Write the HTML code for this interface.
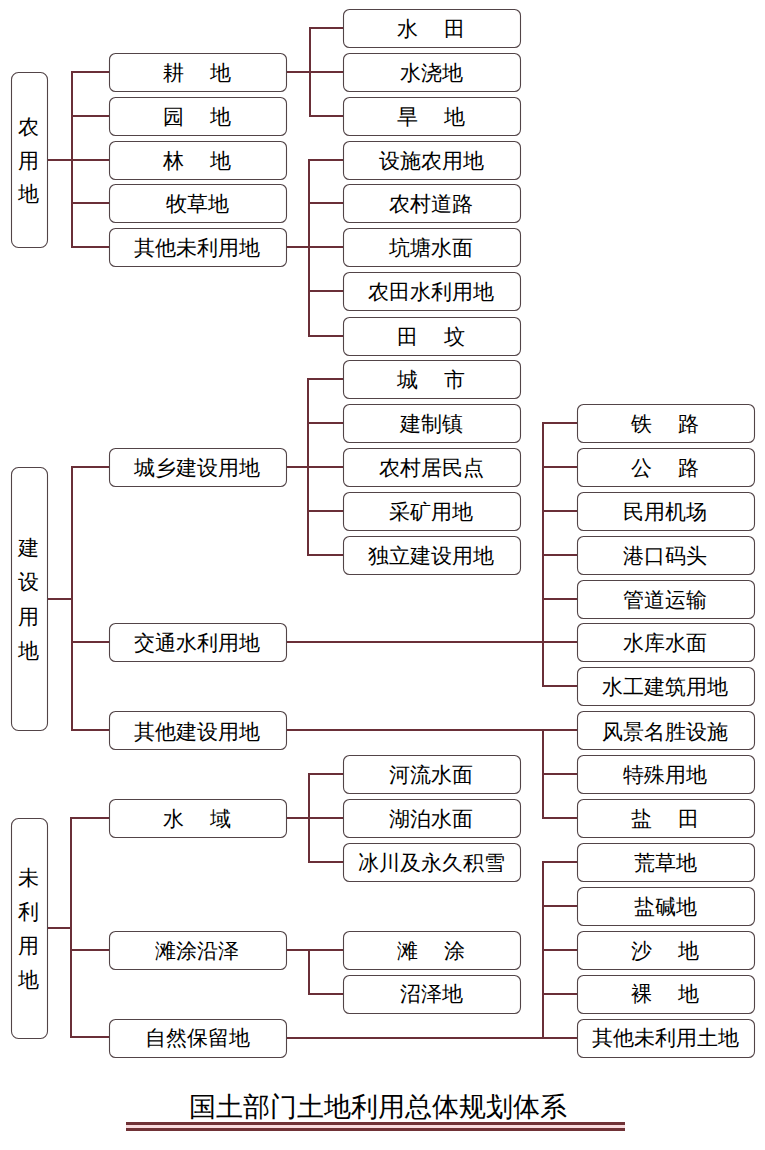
<!DOCTYPE html>
<html><head><meta charset="utf-8"><style>
html,body{margin:0;padding:0;background:#fff;width:765px;height:1150px;overflow:hidden}
svg{display:block}
.t{font-family:"Liberation Sans",sans-serif;font-size:21px;fill:#000;text-anchor:middle;dominant-baseline:central}
.title{font-family:"Liberation Sans",sans-serif;font-size:27px;fill:#000;text-anchor:middle;dominant-baseline:central}
</style></head><body>
<svg width="765" height="1150" viewBox="0 0 765 1150">
<rect x="47" y="159" width="26" height="2" fill="#6a2f38"/><rect x="71" y="71" width="2" height="177" fill="#6a2f38"/><rect x="71" y="71" width="39" height="2" fill="#6a2f38"/><rect x="71" y="115" width="39" height="2" fill="#6a2f38"/><rect x="71" y="159" width="39" height="2" fill="#6a2f38"/><rect x="71" y="202" width="39" height="2" fill="#6a2f38"/><rect x="71" y="246" width="39" height="2" fill="#6a2f38"/><rect x="47" y="598" width="26" height="2" fill="#6a2f38"/><rect x="71" y="466" width="2" height="265" fill="#6a2f38"/><rect x="71" y="466" width="39" height="2" fill="#6a2f38"/><rect x="71" y="641" width="39" height="2" fill="#6a2f38"/><rect x="71" y="729" width="39" height="2" fill="#6a2f38"/><rect x="47" y="927" width="25" height="2" fill="#6a2f38"/><rect x="70" y="817" width="2" height="221" fill="#6a2f38"/><rect x="70" y="817" width="40" height="2" fill="#6a2f38"/><rect x="70" y="949" width="40" height="2" fill="#6a2f38"/><rect x="70" y="1036" width="40" height="2" fill="#6a2f38"/><rect x="286" y="71" width="25" height="2" fill="#6a2f38"/><rect x="309" y="27" width="2" height="90" fill="#6a2f38"/><rect x="309" y="27" width="35" height="2" fill="#6a2f38"/><rect x="309" y="71" width="35" height="2" fill="#6a2f38"/><rect x="309" y="115" width="35" height="2" fill="#6a2f38"/><rect x="286" y="246" width="24" height="2" fill="#6a2f38"/><rect x="308" y="159" width="2" height="178" fill="#6a2f38"/><rect x="308" y="159" width="36" height="2" fill="#6a2f38"/><rect x="308" y="202" width="36" height="2" fill="#6a2f38"/><rect x="308" y="246" width="36" height="2" fill="#6a2f38"/><rect x="308" y="290" width="36" height="2" fill="#6a2f38"/><rect x="308" y="335" width="36" height="2" fill="#6a2f38"/><rect x="286" y="466" width="23" height="2" fill="#6a2f38"/><rect x="307" y="378" width="2" height="178" fill="#6a2f38"/><rect x="307" y="378" width="37" height="2" fill="#6a2f38"/><rect x="307" y="422" width="37" height="2" fill="#6a2f38"/><rect x="307" y="466" width="37" height="2" fill="#6a2f38"/><rect x="307" y="510" width="37" height="2" fill="#6a2f38"/><rect x="307" y="554" width="37" height="2" fill="#6a2f38"/><rect x="286" y="817" width="24" height="2" fill="#6a2f38"/><rect x="308" y="773" width="2" height="90" fill="#6a2f38"/><rect x="308" y="773" width="36" height="2" fill="#6a2f38"/><rect x="308" y="817" width="36" height="2" fill="#6a2f38"/><rect x="308" y="861" width="36" height="2" fill="#6a2f38"/><rect x="286" y="949" width="24" height="2" fill="#6a2f38"/><rect x="308" y="949" width="2" height="46" fill="#6a2f38"/><rect x="308" y="949" width="36" height="2" fill="#6a2f38"/><rect x="308" y="993" width="36" height="2" fill="#6a2f38"/><rect x="286" y="641" width="292" height="2" fill="#6a2f38"/><rect x="542" y="422" width="2" height="265" fill="#6a2f38"/><rect x="542" y="422" width="36" height="2" fill="#6a2f38"/><rect x="542" y="466" width="36" height="2" fill="#6a2f38"/><rect x="542" y="510" width="36" height="2" fill="#6a2f38"/><rect x="542" y="554" width="36" height="2" fill="#6a2f38"/><rect x="542" y="598" width="36" height="2" fill="#6a2f38"/><rect x="542" y="641" width="36" height="2" fill="#6a2f38"/><rect x="542" y="685" width="36" height="2" fill="#6a2f38"/><rect x="286" y="729" width="292" height="2" fill="#6a2f38"/><rect x="542" y="729" width="2" height="90" fill="#6a2f38"/><rect x="542" y="729" width="36" height="2" fill="#6a2f38"/><rect x="542" y="773" width="36" height="2" fill="#6a2f38"/><rect x="542" y="817" width="36" height="2" fill="#6a2f38"/><rect x="286" y="1037" width="292" height="2" fill="#6a2f38"/><rect x="542" y="861" width="2" height="178" fill="#6a2f38"/><rect x="542" y="861" width="36" height="2" fill="#6a2f38"/><rect x="542" y="905" width="36" height="2" fill="#6a2f38"/><rect x="542" y="949" width="36" height="2" fill="#6a2f38"/><rect x="542" y="993" width="36" height="2" fill="#6a2f38"/><rect x="542" y="1037" width="36" height="2" fill="#6a2f38"/><rect x="109.5" y="53.5" width="177.0" height="38.0" rx="6" fill="#fff" stroke="#524447" stroke-width="1.1"/><rect x="109.5" y="97.5" width="177.0" height="38.0" rx="6" fill="#fff" stroke="#524447" stroke-width="1.1"/><rect x="109.5" y="141.5" width="177.0" height="38.0" rx="6" fill="#fff" stroke="#524447" stroke-width="1.1"/><rect x="109.5" y="184.5" width="177.0" height="38.0" rx="6" fill="#fff" stroke="#524447" stroke-width="1.1"/><rect x="109.5" y="228.5" width="177.0" height="38.0" rx="6" fill="#fff" stroke="#524447" stroke-width="1.1"/><rect x="109.5" y="448.5" width="177.0" height="38.0" rx="6" fill="#fff" stroke="#524447" stroke-width="1.1"/><rect x="109.5" y="623.5" width="177.0" height="38.0" rx="6" fill="#fff" stroke="#524447" stroke-width="1.1"/><rect x="109.5" y="711.5" width="177.0" height="38.0" rx="6" fill="#fff" stroke="#524447" stroke-width="1.1"/><rect x="109.5" y="799.5" width="177.0" height="38.0" rx="6" fill="#fff" stroke="#524447" stroke-width="1.1"/><rect x="109.5" y="931.5" width="177.0" height="38.0" rx="6" fill="#fff" stroke="#524447" stroke-width="1.1"/><rect x="109.5" y="1019.5" width="177.0" height="38.0" rx="6" fill="#fff" stroke="#524447" stroke-width="1.1"/><rect x="343.5" y="9.5" width="177.0" height="38.0" rx="6" fill="#fff" stroke="#524447" stroke-width="1.1"/><rect x="343.5" y="53.5" width="177.0" height="38.0" rx="6" fill="#fff" stroke="#524447" stroke-width="1.1"/><rect x="343.5" y="97.5" width="177.0" height="38.0" rx="6" fill="#fff" stroke="#524447" stroke-width="1.1"/><rect x="343.5" y="141.5" width="177.0" height="38.0" rx="6" fill="#fff" stroke="#524447" stroke-width="1.1"/><rect x="343.5" y="184.5" width="177.0" height="38.0" rx="6" fill="#fff" stroke="#524447" stroke-width="1.1"/><rect x="343.5" y="228.5" width="177.0" height="38.0" rx="6" fill="#fff" stroke="#524447" stroke-width="1.1"/><rect x="343.5" y="272.5" width="177.0" height="38.0" rx="6" fill="#fff" stroke="#524447" stroke-width="1.1"/><rect x="343.5" y="317.5" width="177.0" height="38.0" rx="6" fill="#fff" stroke="#524447" stroke-width="1.1"/><rect x="343.5" y="360.5" width="177.0" height="38.0" rx="6" fill="#fff" stroke="#524447" stroke-width="1.1"/><rect x="343.5" y="404.5" width="177.0" height="38.0" rx="6" fill="#fff" stroke="#524447" stroke-width="1.1"/><rect x="343.5" y="448.5" width="177.0" height="38.0" rx="6" fill="#fff" stroke="#524447" stroke-width="1.1"/><rect x="343.5" y="492.5" width="177.0" height="38.0" rx="6" fill="#fff" stroke="#524447" stroke-width="1.1"/><rect x="343.5" y="536.5" width="177.0" height="38.0" rx="6" fill="#fff" stroke="#524447" stroke-width="1.1"/><rect x="343.5" y="755.5" width="177.0" height="38.0" rx="6" fill="#fff" stroke="#524447" stroke-width="1.1"/><rect x="343.5" y="799.5" width="177.0" height="38.0" rx="6" fill="#fff" stroke="#524447" stroke-width="1.1"/><rect x="343.5" y="843.5" width="177.0" height="38.0" rx="6" fill="#fff" stroke="#524447" stroke-width="1.1"/><rect x="343.5" y="931.5" width="177.0" height="38.0" rx="6" fill="#fff" stroke="#524447" stroke-width="1.1"/><rect x="343.5" y="975.5" width="177.0" height="38.0" rx="6" fill="#fff" stroke="#524447" stroke-width="1.1"/><rect x="577.5" y="404.5" width="177.0" height="38.0" rx="6" fill="#fff" stroke="#524447" stroke-width="1.1"/><rect x="577.5" y="448.5" width="177.0" height="38.0" rx="6" fill="#fff" stroke="#524447" stroke-width="1.1"/><rect x="577.5" y="492.5" width="177.0" height="38.0" rx="6" fill="#fff" stroke="#524447" stroke-width="1.1"/><rect x="577.5" y="536.5" width="177.0" height="38.0" rx="6" fill="#fff" stroke="#524447" stroke-width="1.1"/><rect x="577.5" y="580.5" width="177.0" height="38.0" rx="6" fill="#fff" stroke="#524447" stroke-width="1.1"/><rect x="577.5" y="623.5" width="177.0" height="38.0" rx="6" fill="#fff" stroke="#524447" stroke-width="1.1"/><rect x="577.5" y="667.5" width="177.0" height="38.0" rx="6" fill="#fff" stroke="#524447" stroke-width="1.1"/><rect x="577.5" y="711.5" width="177.0" height="38.0" rx="6" fill="#fff" stroke="#524447" stroke-width="1.1"/><rect x="577.5" y="755.5" width="177.0" height="38.0" rx="6" fill="#fff" stroke="#524447" stroke-width="1.1"/><rect x="577.5" y="799.5" width="177.0" height="38.0" rx="6" fill="#fff" stroke="#524447" stroke-width="1.1"/><rect x="577.5" y="843.5" width="177.0" height="38.0" rx="6" fill="#fff" stroke="#524447" stroke-width="1.1"/><rect x="577.5" y="887.5" width="177.0" height="38.0" rx="6" fill="#fff" stroke="#524447" stroke-width="1.1"/><rect x="577.5" y="931.5" width="177.0" height="38.0" rx="6" fill="#fff" stroke="#524447" stroke-width="1.1"/><rect x="577.5" y="975.5" width="177.0" height="38.0" rx="6" fill="#fff" stroke="#524447" stroke-width="1.1"/><rect x="577.5" y="1019.5" width="177.0" height="38.0" rx="6" fill="#fff" stroke="#524447" stroke-width="1.1"/><rect x="11.5" y="72.5" width="36.0" height="175.0" rx="7" fill="#fff" stroke="#524447" stroke-width="1.1"/><rect x="11.5" y="467.5" width="36.0" height="263.0" rx="7" fill="#fff" stroke="#524447" stroke-width="1.1"/><rect x="11.5" y="818.5" width="36.0" height="220.0" rx="7" fill="#fff" stroke="#524447" stroke-width="1.1"/>
<text x="173.35" y="72.00" class="t">耕</text><text x="220.85" y="72.00" class="t">地</text><text x="173.35" y="116.00" class="t">园</text><text x="220.85" y="116.00" class="t">地</text><text x="173.35" y="160.00" class="t">林</text><text x="220.85" y="160.00" class="t">地</text><text x="197.10" y="203.00" class="t">牧草地</text><text x="197.10" y="247.00" class="t">其他未利用地</text><text x="197.10" y="467.00" class="t">城乡建设用地</text><text x="197.10" y="642.00" class="t">交通水利用地</text><text x="197.10" y="731.00" class="t">其他建设用地</text><text x="173.35" y="818.00" class="t">水</text><text x="220.85" y="818.00" class="t">域</text><text x="197.10" y="950.00" class="t">滩涂沿泽</text><text x="197.10" y="1037.00" class="t">自然保留地</text><text x="407.35" y="28.00" class="t">水</text><text x="454.85" y="28.00" class="t">田</text><text x="431.10" y="72.00" class="t">水浇地</text><text x="407.35" y="116.00" class="t">旱</text><text x="454.85" y="116.00" class="t">地</text><text x="431.10" y="160.00" class="t">设施农用地</text><text x="431.10" y="203.00" class="t">农村道路</text><text x="431.10" y="247.00" class="t">坑塘水面</text><text x="431.10" y="291.00" class="t">农田水利用地</text><text x="407.35" y="336.00" class="t">田</text><text x="454.85" y="336.00" class="t">坟</text><text x="407.35" y="379.00" class="t">城</text><text x="454.85" y="379.00" class="t">市</text><text x="431.10" y="423.00" class="t">建制镇</text><text x="431.10" y="467.00" class="t">农村居民点</text><text x="431.10" y="511.00" class="t">采矿用地</text><text x="431.10" y="555.00" class="t">独立建设用地</text><text x="431.10" y="774.00" class="t">河流水面</text><text x="431.10" y="818.00" class="t">湖泊水面</text><text x="431.10" y="862.00" class="t">冰川及永久积雪</text><text x="407.35" y="950.00" class="t">滩</text><text x="454.85" y="950.00" class="t">涂</text><text x="431.10" y="993.00" class="t">沼泽地</text><text x="641.35" y="423.00" class="t">铁</text><text x="688.85" y="423.00" class="t">路</text><text x="641.35" y="467.00" class="t">公</text><text x="688.85" y="467.00" class="t">路</text><text x="665.10" y="511.00" class="t">民用机场</text><text x="665.10" y="555.00" class="t">港口码头</text><text x="665.10" y="599.00" class="t">管道运输</text><text x="665.10" y="642.00" class="t">水库水面</text><text x="665.10" y="686.00" class="t">水工建筑用地</text><text x="665.10" y="731.00" class="t">风景名胜设施</text><text x="665.10" y="774.00" class="t">特殊用地</text><text x="641.35" y="818.00" class="t">盐</text><text x="688.85" y="818.00" class="t">田</text><text x="665.10" y="862.00" class="t">荒草地</text><text x="665.10" y="906.00" class="t">盐碱地</text><text x="641.35" y="950.00" class="t">沙</text><text x="688.85" y="950.00" class="t">地</text><text x="641.35" y="993.00" class="t">裸</text><text x="688.85" y="993.00" class="t">地</text><text x="665.10" y="1037.00" class="t">其他未利用土地</text><text x="28.00" y="126.50" class="t">农</text><text x="28.00" y="160.00" class="t">用</text><text x="28.00" y="193.50" class="t">地</text><text x="28.00" y="547.85" class="t">建</text><text x="28.00" y="581.95" class="t">设</text><text x="28.00" y="616.05" class="t">用</text><text x="28.00" y="650.15" class="t">地</text><text x="28.00" y="877.35" class="t">未</text><text x="28.00" y="911.45" class="t">利</text><text x="28.00" y="945.55" class="t">用</text><text x="28.00" y="979.65" class="t">地</text>
<text x="378" y="1107" class="title">国土部门土地利用总体规划体系</text>
<rect x="126" y="1125" width="499" height="3" fill="#f9dcdf"/><rect x="126" y="1122" width="499" height="3" fill="#703236"/><rect x="126" y="1128" width="499" height="3" fill="#703236"/>
</svg>
</body></html>
